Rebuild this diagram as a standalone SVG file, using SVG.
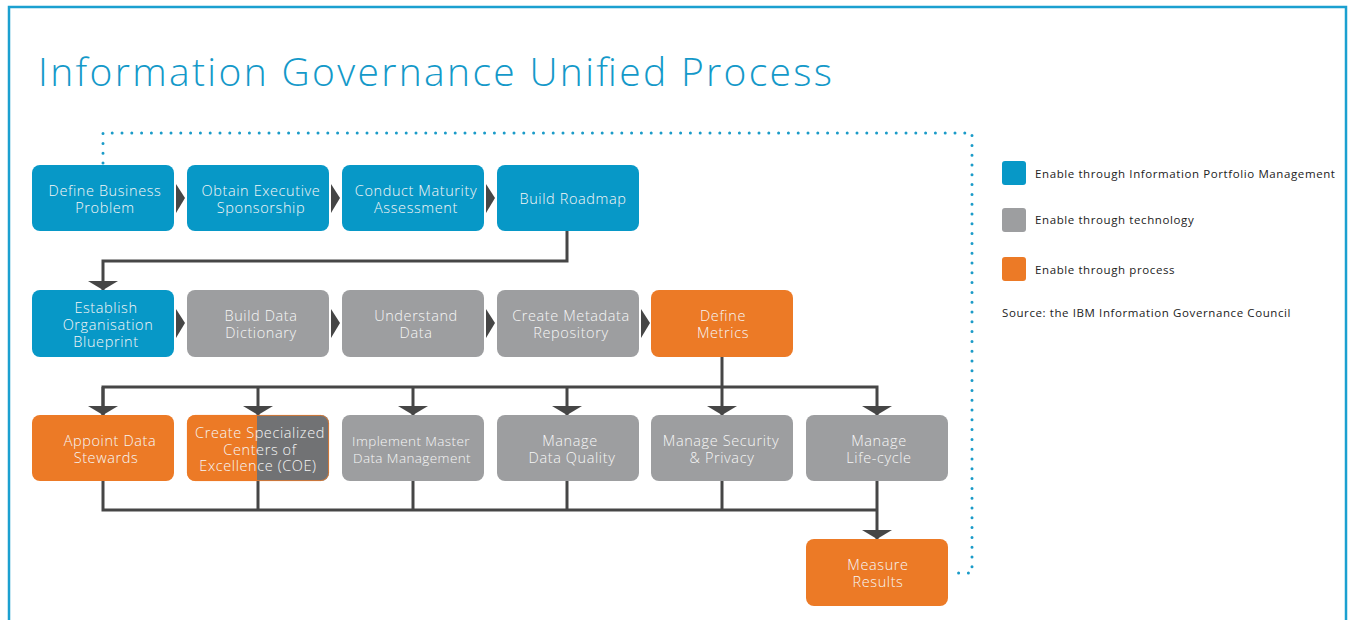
<svg xmlns="http://www.w3.org/2000/svg" width="1351" height="620" viewBox="0 0 1351 620">
<style>
.node > rect{rx:8px;ry:8px}
.blue{fill:#0798c7}
.gray{fill:#9d9ea0}
.orange{fill:#ec7a26}
.lbl{font-family:"Open Sans","Liberation Sans",sans-serif;font-size:14.5px;font-weight:300;letter-spacing:0.6px;fill:#f6f6f6;text-anchor:middle}
.sm{font-size:13.5px;letter-spacing:0.4px}
.conn{fill:none;stroke:#464646;stroke-width:3;stroke-linejoin:miter}
.tri{fill:#464646}
.dots{fill:none;stroke:#1a9bc8;stroke-width:3;stroke-linecap:round;stroke-dasharray:0 9.8}
.leg{font-family:"Open Sans","Liberation Sans",sans-serif;font-size:11.5px;letter-spacing:0.6px;fill:#222}
</style>
<defs>
<marker id="ah" viewBox="0 0 9 30" refX="9" refY="15" markerWidth="9" markerHeight="30" markerUnits="userSpaceOnUse" orient="auto">
<path d="M0,0 L9,15 L0,30 z" fill="#464646"/>
</marker>
<clipPath id="coeclip"><rect x="187" y="415" width="142" height="66" rx="8" ry="8"/></clipPath>
</defs>
<rect x="0" y="0" width="1351" height="620" fill="#ffffff"/>
<rect id="frame" x="9" y="7" width="1337" height="650" fill="none" stroke="#1ba0d0" stroke-width="2.5"/>
<text id="title" x="38" y="86" font-family="'Open Sans','Liberation Sans',sans-serif" font-size="39" font-weight="300" fill="#1499c9" textLength="794" lengthAdjust="spacing">Information Governance Unified Process</text>

<g id="connectors">
<path class="dots" d="M103,163 V133 H972 V573 H950"/>
<polygon class="tri" points="176,184 185,198 176,213"/>
<polygon class="tri" points="331,184 340,198 331,213"/>
<polygon class="tri" points="486,184 495,198 486,213"/>
<polygon class="tri" points="176,309 185,323 176,338"/>
<polygon class="tri" points="331,309 340,323 331,338"/>
<polygon class="tri" points="486,309 495,323 486,338"/>
<polygon class="tri" points="641,309 650,323 641,338"/>
<path class="conn" d="M567,231 V261 H103 V290" marker-end="url(#ah)"/>
<path class="conn" d="M722,357 V415" marker-end="url(#ah)"/>
<path class="conn" d="M103,415 V387 H877 V415" marker-end="url(#ah)"/>
<path class="conn" d="M103,387 V415" marker-end="url(#ah)"/>
<path class="conn" d="M258,387 V415" marker-end="url(#ah)"/>
<path class="conn" d="M413,387 V415" marker-end="url(#ah)"/>
<path class="conn" d="M567,387 V415" marker-end="url(#ah)"/>
<path class="conn" d="M103,481 V510 H877"/>
<path class="conn" d="M258,481 V510"/>
<path class="conn" d="M413,481 V510"/>
<path class="conn" d="M567,481 V510"/>
<path class="conn" d="M722,481 V510"/>
<path class="conn" d="M877,481 V539" marker-end="url(#ah)"/>
</g>

<g id="n-define-business" class="node"><rect class="blue" x="32" y="165" width="142" height="66"/><text class="lbl" x="105" y="196">Define Business<tspan x="105" dy="17">Problem</tspan></text></g>
<g id="n-obtain-exec" class="node"><rect class="blue" x="187" y="165" width="142" height="66"/><text class="lbl" x="261" y="196">Obtain Executive<tspan x="261" dy="17">Sponsorship</tspan></text></g>
<g id="n-maturity" class="node"><rect class="blue" x="342" y="165" width="142" height="66"/><text class="lbl" x="416" y="196">Conduct Maturity<tspan x="416" dy="17">Assessment</tspan></text></g>
<g id="n-roadmap" class="node"><rect class="blue" x="497" y="165" width="142" height="66"/><text class="lbl" x="573" y="204">Build Roadmap</text></g>

<g id="n-blueprint" class="node"><rect class="blue" x="32" y="290" width="142" height="67"/><text class="lbl" x="106" y="313">Establish<tspan x="108" dy="17">Organisation</tspan><tspan x="106" dy="17">Blueprint</tspan></text></g>
<g id="n-dictionary" class="node"><rect class="gray" x="187" y="290" width="142" height="67"/><text class="lbl" x="261" y="321">Build Data<tspan x="261" dy="17">Dictionary</tspan></text></g>
<g id="n-understand" class="node"><rect class="gray" x="342" y="290" width="142" height="67"/><text class="lbl" x="416" y="321">Understand<tspan x="416" dy="17">Data</tspan></text></g>
<g id="n-metadata" class="node"><rect class="gray" x="497" y="290" width="142" height="67"/><text class="lbl" x="571" y="321">Create Metadata<tspan x="571" dy="17">Repository</tspan></text></g>
<g id="n-metrics" class="node"><rect class="orange" x="651" y="290" width="142" height="67"/><text class="lbl" x="723" y="321">Define<tspan x="723" dy="17">Metrics</tspan></text></g>

<g id="n-stewards" class="node"><rect class="orange" x="32" y="415" width="142" height="66"/><text class="lbl" x="110" y="446">Appoint Data<tspan x="106" dy="17">Stewards</tspan></text></g>
<g id="n-coe" class="node"><g clip-path="url(#coeclip)"><rect x="187" y="415" width="71" height="66" fill="#ec7a26"/><rect x="257" y="415" width="72" height="66" fill="#717274"/></g><rect x="187.4" y="415.4" width="141.2" height="65.2" fill="none" stroke="#ec7a26" stroke-width="0.8"/><text class="lbl" x="260" y="438">Create Specialized<tspan x="260" dy="16.5">Centers of</tspan><tspan x="258" dy="16.5">Excellence (COE)</tspan></text></g>
<g id="n-mdm" class="node"><rect class="gray" x="342" y="415" width="142" height="66"/><text class="lbl sm" x="411" y="446">Implement Master<tspan x="412" dy="16.5">Data Management</tspan></text></g>
<g id="n-quality" class="node"><rect class="gray" x="497" y="415" width="142" height="66"/><text class="lbl" x="570" y="446">Manage<tspan x="572" dy="17">Data Quality</tspan></text></g>
<g id="n-security" class="node"><rect class="gray" x="651" y="415" width="142" height="66"/><text class="lbl" x="721" y="446">Manage Security<tspan x="722" dy="17">&amp; Privacy</tspan></text></g>
<g id="n-lifecycle" class="node"><rect class="gray" x="806" y="415" width="142" height="66"/><text class="lbl" x="879" y="446">Manage<tspan x="879" dy="17">Life-cycle</tspan></text></g>

<g id="n-measure" class="node"><rect class="orange" x="806" y="539" width="142" height="67"/><text class="lbl" x="878" y="570">Measure<tspan x="878" dy="17">Results</tspan></text></g>

<g id="legend">
<rect x="1002" y="161" width="24" height="24" rx="3" fill="#0798c7"/>
<text class="leg" x="1035" y="178">Enable through Information Portfolio Management</text>
<rect x="1002" y="208" width="24" height="24" rx="3" fill="#9d9ea0"/>
<text class="leg" x="1035" y="224">Enable through technology</text>
<rect x="1002" y="257" width="24" height="24" rx="3" fill="#ec7a26"/>
<text class="leg" x="1035" y="274">Enable through process</text>
<text class="leg" x="1002" y="317">Source: the IBM Information Governance Council</text>
</g>
</svg>
